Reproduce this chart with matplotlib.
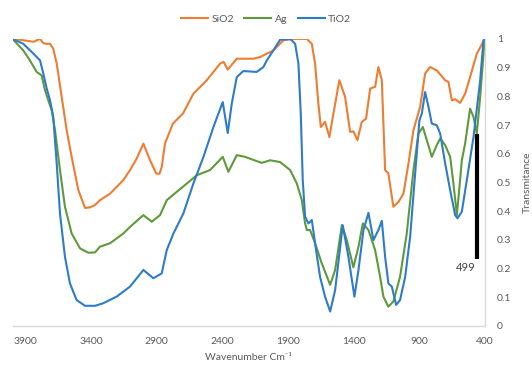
import numpy as np, matplotlib
matplotlib.use('Agg')
import matplotlib.pyplot as plt

plt.rcParams['font.family'] = ['Lato', 'DejaVu Sans']

C = {'sio2': '#ED7D31', 'ag': '#5E9A3A', 'tio2': '#2E7BC9', 'txt': '#595959', 'grid': '#D9D9D9'}

# wavenumber (cm-1) / transmitance
sio2_wn = [4000, 3943, 3841, 3790, 3765, 3739, 3714, 3689, 3663, 3625, 3587, 3549, 3498, 3447,
           3409, 3371, 3333, 3256, 3155, 3104, 3053, 3002, 2951, 2904, 2879, 2862, 2837, 2777,
           2700, 2621, 2519, 2417, 2390, 2359, 2290, 2163, 2112, 2036, 2011, 1935, 1858, 1756,
           1718, 1693, 1668, 1649, 1617, 1584, 1553, 1508, 1464, 1426, 1401, 1370, 1337, 1304,
           1273, 1235, 1210, 1184, 1159, 1134, 1096, 1057, 1019, 981, 943, 892, 854, 816, 765,
           701, 676, 650, 625, 587, 549, 511, 460, 400]
sio2_t = [1.0, 0.997, 0.99, 1.0, 0.985, 0.983, 0.983, 0.966, 0.914, 0.798, 0.682, 0.589, 0.473, 0.411,
          0.413, 0.421, 0.438, 0.461, 0.508, 0.543, 0.583, 0.635, 0.577, 0.531, 0.53, 0.554, 0.636, 0.705,
          0.74, 0.809, 0.856, 0.914, 0.92, 0.893, 0.931, 0.931, 0.937, 0.954, 0.96, 0.995, 1.0, 1.0,
          0.983, 0.914, 0.775, 0.693, 0.711, 0.658, 0.74, 0.856, 0.798, 0.676, 0.678, 0.647, 0.711, 0.722,
          0.827, 0.833, 0.902, 0.856, 0.543, 0.531, 0.415, 0.432, 0.461, 0.566, 0.682, 0.763, 0.879, 0.902, 0.89,
          0.856, 0.85, 0.786, 0.79, 0.777, 0.809, 0.867, 0.948, 1.0]

ag_wn = [4000, 3918, 3867, 3816, 3778, 3752, 3727, 3701, 3676, 3638, 3600, 3549, 3485, 3422,
         3371, 3333, 3256, 3155, 3104, 3002, 2938, 2875, 2824, 2748, 2671, 2595, 2494, 2397,
         2354, 2290, 2227, 2100, 2036, 1960, 1883, 1832, 1794, 1769, 1756, 1731, 1693, 1642,
         1578, 1540, 1489, 1451, 1401, 1362, 1329, 1286, 1235, 1197, 1172, 1134, 1096, 1045,
         994, 943, 905, 871, 841, 803, 765, 739, 701, 663, 638, 612, 592, 574, 549, 511,
         485, 460, 434, 400]
ag_t = [1.0, 0.96, 0.925, 0.885, 0.873, 0.821, 0.786, 0.751, 0.682, 0.543, 0.415, 0.322, 0.27, 0.255,
        0.256, 0.276, 0.288, 0.322, 0.345, 0.386, 0.363, 0.386, 0.438, 0.467, 0.496, 0.525, 0.543, 0.589,
        0.537, 0.595, 0.589, 0.568, 0.577, 0.571, 0.543, 0.496, 0.438, 0.357, 0.334, 0.334, 0.288, 0.218,
        0.143, 0.195, 0.351, 0.299, 0.204, 0.276, 0.357, 0.334, 0.264, 0.171, 0.102, 0.067, 0.085, 0.171,
        0.322, 0.543, 0.67, 0.693, 0.647, 0.589, 0.63, 0.653, 0.63, 0.589, 0.496, 0.386, 0.485, 0.577, 0.635, 0.757,
        0.728, 0.67, 0.798, 1.0]

tio2_wn = [4000, 3918, 3841, 3790, 3765, 3739, 3714, 3689, 3663, 3638, 3600, 3562, 3511, 3447,
           3371, 3308, 3206, 3104, 3002, 2926, 2862, 2824, 2773, 2697, 2621, 2544, 2468, 2397,
           2359, 2328, 2290, 2240, 2138, 2087, 2061, 2011, 1960, 1883, 1845, 1820, 1802, 1787,
           1769, 1744, 1718, 1693, 1655, 1617, 1578, 1540, 1482, 1439, 1393, 1362, 1324, 1286,
           1248, 1210, 1184, 1159, 1134, 1108, 1075, 1045, 1006, 968, 930, 897, 879, 854, 828,
           803, 765, 739, 701, 663, 625, 607, 574, 536, 485, 434, 409, 400]
tio2_t = [1.0, 0.983, 0.949, 0.925, 0.879, 0.827, 0.786, 0.728, 0.566, 0.392, 0.241, 0.148, 0.09, 0.07,
          0.07, 0.079, 0.102, 0.137, 0.195, 0.166, 0.183, 0.264, 0.322, 0.392, 0.496, 0.589, 0.693, 0.78,
          0.672, 0.775, 0.867, 0.888, 0.885, 0.902, 0.925, 0.96, 0.997, 1.0, 0.983, 0.914, 0.74, 0.508,
          0.38, 0.357, 0.369, 0.288, 0.171, 0.102, 0.05, 0.125, 0.351, 0.241, 0.102, 0.195, 0.334, 0.394,
          0.299, 0.334, 0.366, 0.241, 0.148, 0.137, 0.073, 0.09, 0.171, 0.311, 0.531, 0.717, 0.74, 0.815, 0.763,
          0.705, 0.699, 0.67, 0.566, 0.473, 0.386, 0.375, 0.398, 0.508, 0.658, 0.856, 0.995, 1.0]

marker_wn = 455
marker_t = [0.232, 0.67]
marker_label = '499'

xticks = [3900, 3400, 2900, 2400, 1900, 1400, 900, 400]
yticks = [0, 0.1, 0.2, 0.3, 0.4, 0.5, 0.6, 0.7, 0.8, 0.9, 1]

fig = plt.figure(figsize=(5.32, 3.67), dpi=100)
ax = fig.add_axes([0.0235, 0.112, 0.8875, 0.782])

for wn, t, col, name in [(sio2_wn, sio2_t, C['sio2'], 'SiO2'),
                         (ag_wn, ag_t, C['ag'], 'Ag'),
                         (tio2_wn, tio2_t, C['tio2'], 'TiO2')]:
    ax.plot(wn, t, color=col, lw=1.5, label=name, solid_joinstyle='round')

ax.plot([marker_wn, marker_wn], marker_t, color='black', lw=3, solid_capstyle='butt')
ax.text(marker_wn + 15, marker_t[0] - 0.01, marker_label, ha='right', va='top', fontsize=8, color='#404040')

ax.set_xlim(4000, 400)
ax.set_ylim(0, 1)
ax.set_xticks(xticks)
ax.set_xticklabels([str(v) for v in xticks])
ax.set_yticks(yticks)
ax.set_yticklabels(['0'] + [f'{v:g}' for v in yticks[1:-1]] + ['1'])
ax.yaxis.tick_right()
ax.yaxis.set_label_position('right')
ax.tick_params(axis='both', length=0, labelsize=7.5, labelcolor=C['txt'])
ax.tick_params(axis='x', pad=8)
ax.tick_params(axis='y', pad=9)
for lab in ax.get_yticklabels():
    lab.set_ha('left')

for s in ['top', 'left']:
    ax.spines[s].set_visible(False)
for s in ['bottom', 'right']:
    ax.spines[s].set_color(C['grid'])
    ax.spines[s].set_linewidth(1)

ax.set_xlabel('Wavenumber Cm⁻¹', fontsize=7.5, color=C['txt'], labelpad=5)
ax.set_ylabel('Transmitance', fontsize=7.5, color=C['txt'], labelpad=8)

fig.legend(loc='center', bbox_to_anchor=(0.5, 0.948), ncol=3, frameon=False, fontsize=7.5,
           handlelength=2.6, columnspacing=1.0, handletextpad=0.3, labelcolor=C['txt'])

plt.savefig('out.png', dpi=100)
plt.close()
